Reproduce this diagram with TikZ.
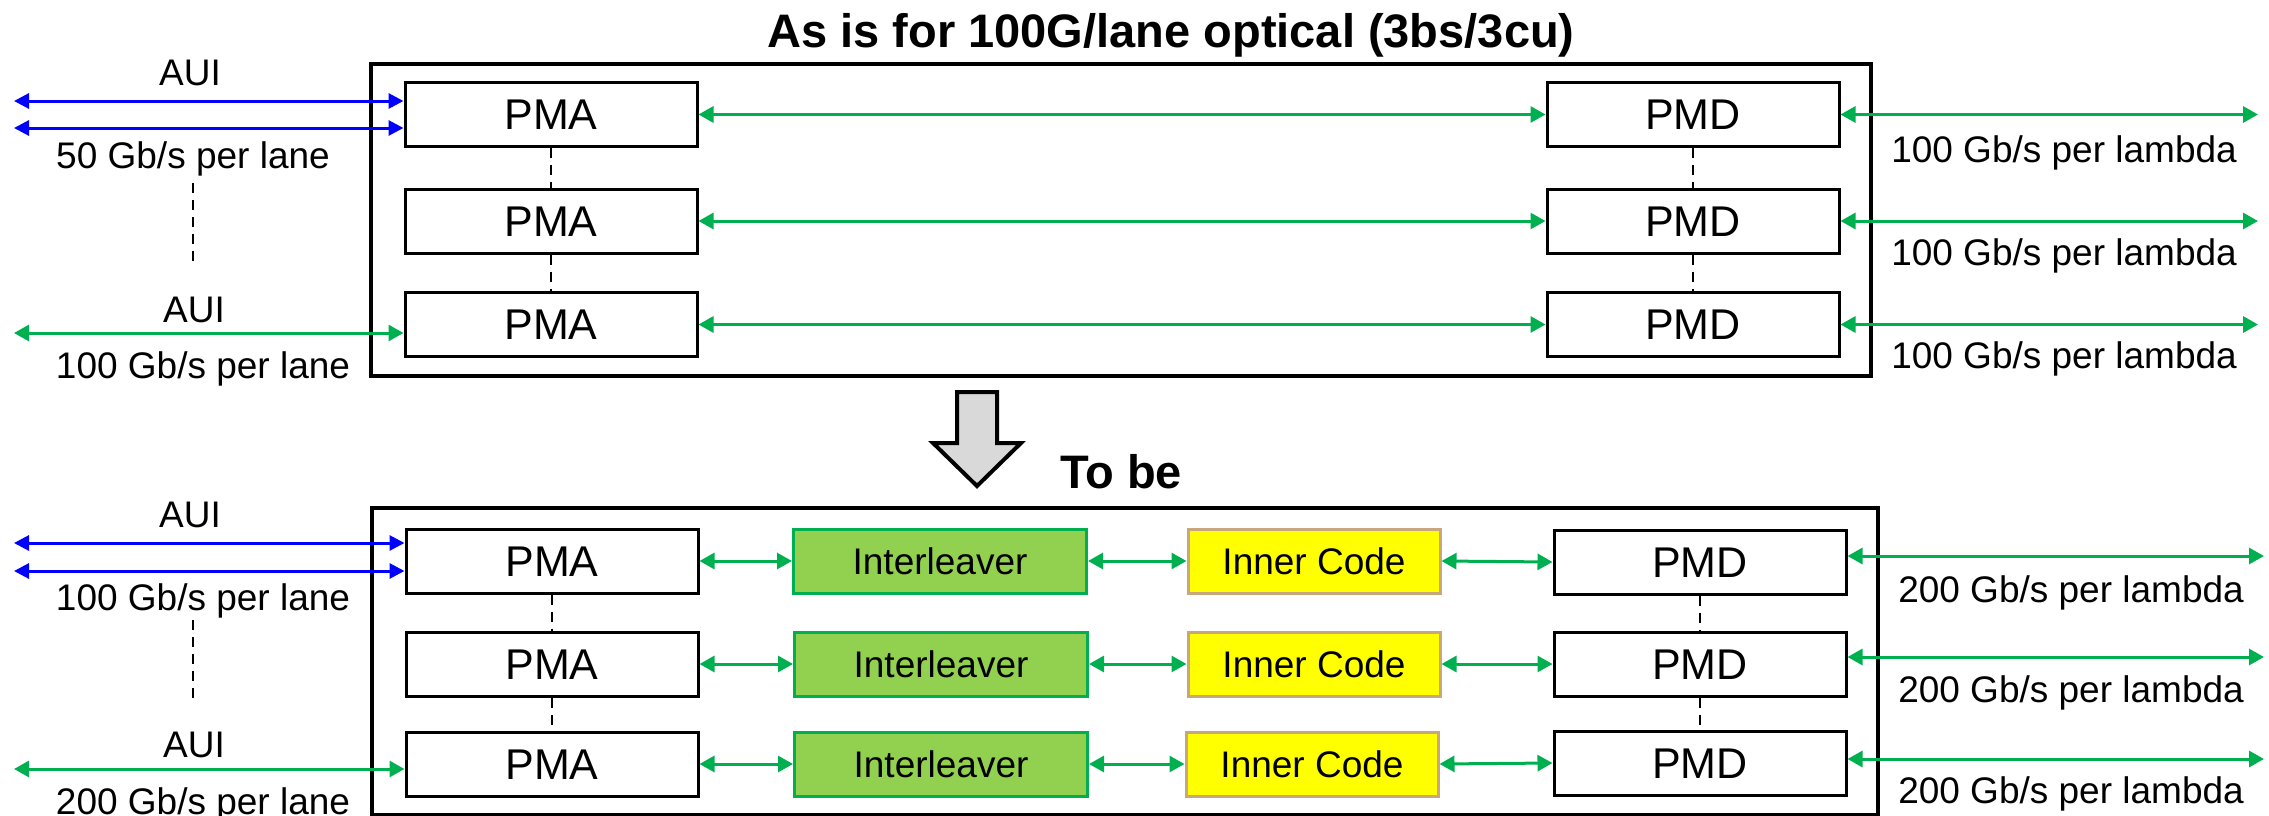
\documentclass[tikz,border=0pt]{standalone}
\usepackage{fontspec}
\setmainfont{Liberation Sans}
\usetikzlibrary{arrows.meta}
\definecolor{lnkgreen}{HTML}{00B050}
\definecolor{lnkblue}{HTML}{0000FF}
\definecolor{ilvfill}{HTML}{92D050}
\definecolor{ilvdraw}{HTML}{00B050}
\definecolor{icfill}{HTML}{FFFF00}
\definecolor{icdraw}{HTML}{C9A77C}
\definecolor{bigarrow}{HTML}{D9D9D9}

\begin{document}
\begin{tikzpicture}[x=1pt,y=-1pt,
  frame/.style={draw, line width=4pt},
  blk/.style={draw, line width=3pt, inner sep=0pt, minimum width=292pt,
    minimum height=64pt, text height=30.8pt, text depth=0pt,
    font=\fontsize{43}{43}\selectfont},
  ilv/.style={draw=ilvdraw, fill=ilvfill, line width=3pt, inner sep=0pt,
    minimum width=293pt, minimum height=64pt, text height=26.5pt,
    text depth=0pt, font=\fontsize{37}{37}\selectfont},
  icode/.style={draw=icdraw, fill=icfill, line width=3pt, inner sep=0pt,
    minimum width=252pt, minimum height=64pt, text height=26.5pt,
    text depth=0pt, font=\fontsize{37}{37}\selectfont},
  lbl/.style={anchor=base, inner sep=0pt, font=\fontsize{37}{37}\selectfont},
  heading/.style={anchor=base, inner sep=0pt, font=\fontsize{47}{47}\selectfont\bfseries},
  gline/.style={lnkgreen, line width=3pt, {Triangle[length=15pt,width=16pt]}-{Triangle[length=15pt,width=16pt]}},
  bline/.style={lnkblue, line width=3pt, {Triangle[length=15pt,width=15pt]}-{Triangle[length=15pt,width=15pt]}},
  dashline/.style={line width=2pt, dash pattern=on 10pt off 7pt}]

\useasboundingbox (0,0) rectangle (2269,816);

% ---------- upper section ----------
\node[heading] (title) at (1171,48) {As is for 100G/lane optical (3bs/3cu)};
\draw[frame] (371,64) rectangle (1871,376);

\node[blk] (pmaA1) at (551,114.5) {PMA};
\node[blk] (pmaA2) at (551,221) {PMA};
\node[blk] (pmaA3) at (551,324.5) {PMA};
\node[blk] (pmdA1) at (1693,114.5) {PMD};
\node[blk] (pmdA2) at (1693,221) {PMD};
\node[blk] (pmdA3) at (1693,324.5) {PMD};

\draw[dashline] (pmaA1.south) -- (pmaA2.north);
\draw[dashline] (pmaA2.south) -- (pmaA3.north);
\draw[dashline] (pmdA1.south) -- (pmdA2.north);
\draw[dashline] (pmdA2.south) -- (pmdA3.north);

\draw[gline] (pmaA1.east) -- (pmdA1.west);
\draw[gline] (pmaA2.east) -- (pmdA2.west);
\draw[gline] (pmaA3.east) -- (pmdA3.west);

\coordinate (la1) at (14,101);
\coordinate (la2) at (14,128);
\coordinate (la3) at (14,333);
\draw[bline] (la1) -- (la1 -| pmaA1.west);
\draw[bline] (la2) -- (la2 -| pmaA1.west);
\draw[gline] (la3) -- (la3 -| pmaA3.west);

\node[lbl] (auiA1) at (190,85) {AUI};
\node[lbl] (rateA1) at (193,168) {50 Gb/s per lane};
\coordinate (dA1) at (193,183);
\coordinate (dA2) at (193,264);
\draw[dashline] (dA1) -- (dA2);
\node[lbl] (auiA2) at (194,322) {AUI};
\node[lbl] (rateA2) at (203,378) {100 Gb/s per lane};

\coordinate (ra1) at (2258,114.5);
\coordinate (ra2) at (2258,221);
\coordinate (ra3) at (2258,324.5);
\draw[gline] (pmdA1.east) -- (ra1);
\draw[gline] (pmdA2.east) -- (ra2);
\draw[gline] (pmdA3.east) -- (ra3);
\node[lbl] (lamA1) at (2064,162) {100 Gb/s per lambda};
\node[lbl] (lamA2) at (2064,265) {100 Gb/s per lambda};
\node[lbl] (lamA3) at (2064,368) {100 Gb/s per lambda};

% ---------- transition arrow ----------
\draw[line width=4pt, fill=bigarrow, line join=miter]
  (957,392) -- (997,392) -- (997,443) -- (1021,443) -- (977,486)
  -- (933,443) -- (957,443) -- cycle;
\node[heading] (tobe) at (1121,488) {To be};

% ---------- lower section ----------
\draw[frame] (372,508) rectangle (1878,815);

\node[blk] (pmaB1) at (552,561) {PMA};
\node[blk] (pmaB2) at (552,664) {PMA};
\node[blk] (pmaB3) at (552,764) {PMA};
\node[ilv] (ilv1) at (940,561) {Interleaver};
\node[ilv] (ilv2) at (941,664) {Interleaver};
\node[ilv] (ilv3) at (941,764) {Interleaver};
\node[icode] (ic1) at (1314,561) {Inner Code};
\node[icode] (ic2) at (1314,664) {Inner Code};
\node[icode] (ic3) at (1312,764) {Inner Code};
\node[blk] (pmdB1) at (1700,562) {PMD};
\node[blk] (pmdB2) at (1700,664) {PMD};
\node[blk] (pmdB3) at (1700,763) {PMD};

\draw[dashline] (pmaB1.south) -- (pmaB2.north);
\draw[dashline] (pmaB2.south) -- (pmaB3.north);
\draw[dashline] (pmdB1.south) -- (pmdB2.north);
\draw[dashline] (pmdB2.south) -- (pmdB3.north);

\foreach \r in {1,2,3}{
  \draw[gline] (pmaB\r.east) -- (ilv\r.west);
  \draw[gline] (ilv\r.east) -- (ic\r.west);
  \draw[gline] (ic\r.east) -- (pmdB\r.west);
}

\coordinate (lb1) at (14,543);
\coordinate (lb2) at (14,571);
\coordinate (lb3) at (14,769);
\draw[bline] (lb1) -- (lb1 -| pmaB1.west);
\draw[bline] (lb2) -- (lb2 -| pmaB1.west);
\draw[gline] (lb3) -- (lb3 -| pmaB3.west);

\node[lbl] (auiB1) at (190,527) {AUI};
\node[lbl] (rateB1) at (203,610) {100 Gb/s per lane};
\coordinate (dB1) at (193,620);
\coordinate (dB2) at (193,702);
\draw[dashline] (dB1) -- (dB2);
\node[lbl] (auiB2) at (194,757) {AUI};
\node[lbl] (rateB2) at (203,814) {200 Gb/s per lane};

\coordinate (rb1) at (2264,556);
\coordinate (rb2) at (2264,657);
\coordinate (rb3) at (2264,759);
\draw[gline] (pmdB1.east |- rb1) -- (rb1);
\draw[gline] (pmdB2.east |- rb2) -- (rb2);
\draw[gline] (pmdB3.east |- rb3) -- (rb3);
\node[lbl] (lamB1) at (2071,602) {200 Gb/s per lambda};
\node[lbl] (lamB2) at (2071,702) {200 Gb/s per lambda};
\node[lbl] (lamB3) at (2071,803) {200 Gb/s per lambda};
\end{tikzpicture}
\end{document}
